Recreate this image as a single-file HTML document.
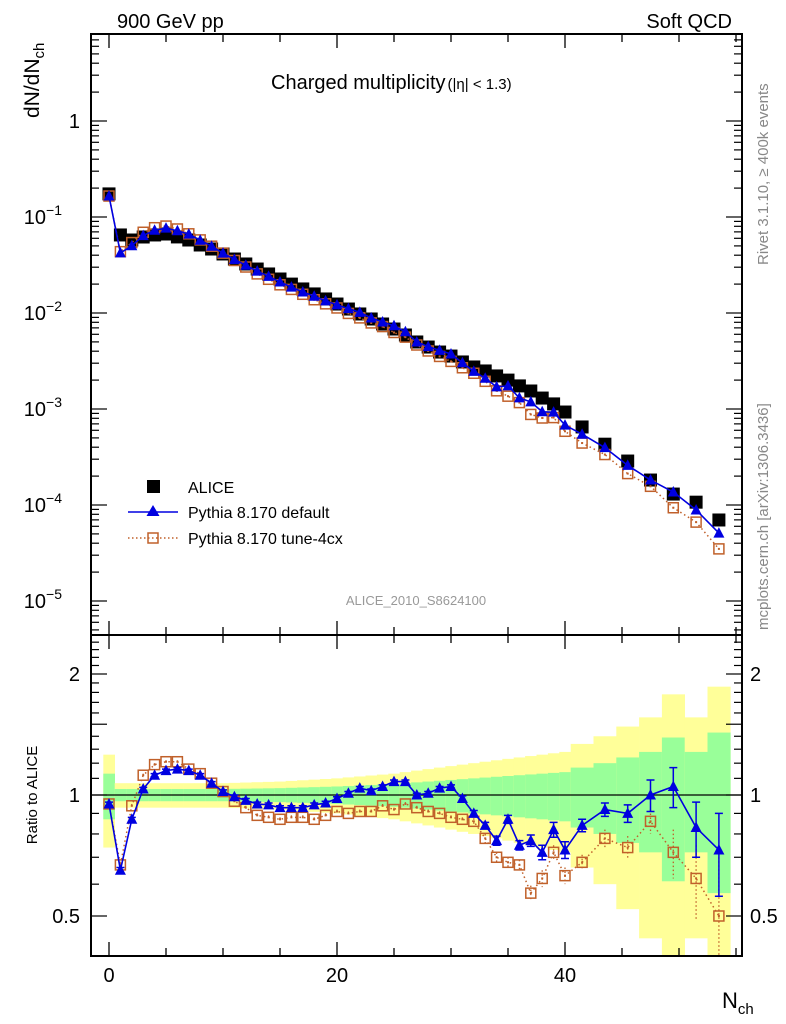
<!DOCTYPE html>
<html><head><meta charset="utf-8"><style>
html,body{margin:0;padding:0;background:#fff;width:786px;height:1024px;overflow:hidden;}
svg{display:block;font-family:"Liberation Sans",sans-serif;}
</style></head><body>
<svg id="chart" width="786" height="1024" viewBox="0 0 786 1024" xmlns="http://www.w3.org/2000/svg">
<defs>
<clipPath id="clipMain"><rect x="91" y="34" width="651" height="601"/></clipPath>
<clipPath id="clipRatio"><rect x="91" y="635" width="651" height="321"/></clipPath>
</defs>
<g id="bands" clip-path="url(#clipRatio)"></g>
<g id="axes"></g>
<g id="ratioMarks" clip-path="url(#clipRatio)"></g>
<g id="mainMarks" clip-path="url(#clipMain)"></g>
<text x="117" y="28" font-size="20">900 GeV pp</text>
<text x="732" y="28" font-size="20" text-anchor="end">Soft QCD</text>
<text x="271" y="89" font-size="20">Charged multiplicity<tspan font-size="15" dx="2">(|η| &lt; 1.3)</tspan></text>
<text transform="translate(39,118) rotate(-90)" font-size="21">dN/dN<tspan font-size="15" dy="5">ch</tspan></text>
<text transform="translate(37,795) rotate(-90)" font-size="15" text-anchor="middle">Ratio to ALICE</text>
<text transform="translate(768,265) rotate(-90)" font-size="15" fill="#888">Rivet 3.1.10, ≥ 400k events</text>
<text transform="translate(768,630) rotate(-90)" font-size="15" fill="#888">mcplots.cern.ch [arXiv:1306.3436]</text>
<text x="416" y="605" font-size="13" fill="#999" text-anchor="middle">ALICE_2010_S8624100</text>
<text x="722" y="1008" font-size="22">N<tspan font-size="15" dy="6">ch</tspan></text>
<g>
  <g>
    <rect x="147" y="480" width="13" height="13" fill="#000"/>
    <text x="188" y="493" font-size="16">ALICE</text>
  </g>
  <g>
    <line x1="128" y1="512" x2="178" y2="512" stroke="#0000e0" stroke-width="1.5"/>
    <polygon points="153,505 159.5,516 146.5,516" fill="#0000e0"/>
    <text x="188" y="518" font-size="16">Pythia 8.170 default</text>
  </g>
  <g>
    <line x1="128" y1="538" x2="178" y2="538" stroke="#c0602a" stroke-width="1.5" stroke-dasharray="1.5,2.5"/>
    <rect x="148" y="533" width="10" height="10" fill="none" stroke="#c0602a" stroke-width="1.5"/>
    <text x="188" y="544" font-size="16">Pythia 8.170 tune-4cx</text>
  </g>
</g>
</svg>
<script>
const binCenters=[0,1,2,3,4,5,6,7,8,9,10,11,12,13,14,15,16,17,18,19,20,21,22,23,24,25,26,27,28,29,30,31,32,33,34,35,36,37,38,39,40,41.5,43.5,45.5,47.5,49.5,51.5,53.5];
const binHalfWidths=[0.5,0.5,0.5,0.5,0.5,0.5,0.5,0.5,0.5,0.5,0.5,0.5,0.5,0.5,0.5,0.5,0.5,0.5,0.5,0.5,0.5,0.5,0.5,0.5,0.5,0.5,0.5,0.5,0.5,0.5,0.5,0.5,0.5,0.5,0.5,0.5,0.5,0.5,0.5,0.5,0.5,1,1,1,1,1,1,1];
const aliceValues=[0.174,0.065,0.0576,0.0619,0.065,0.0665,0.062,0.0576,0.0511,0.0464,0.0412,0.0365,0.0324,0.0287,0.0255,0.0226,0.0200,0.0178,0.0158,0.0140,0.0124,0.0110,0.00977,0.00866,0.00768,0.00681,0.00590,0.00499,0.00442,0.00392,0.00356,0.00309,0.00274,0.00249,0.00221,0.00200,0.00174,0.00154,0.00130,0.00113,0.00093,0.00065,0.00043,0.000287,0.000182,0.000130,0.000107,0.0000698];
const aliceRelErr=[0.13,0.035,0.035,0.035,0.035,0.035,0.035,0.035,0.035,0.035,0.035,0.036,0.037,0.038,0.039,0.04,0.042,0.044,0.046,0.048,0.05,0.053,0.056,0.059,0.062,0.065,0.07,0.075,0.08,0.085,0.09,0.095,0.1,0.105,0.11,0.115,0.12,0.125,0.13,0.135,0.14,0.17,0.2,0.24,0.28,0.39,0.28,0.43];
const ratioDefault=[0.95,0.65,0.87,1.035,1.12,1.15,1.16,1.15,1.12,1.07,1.02,0.99,0.97,0.95,0.945,0.93,0.93,0.93,0.945,0.955,0.98,1.01,1.04,1.025,1.05,1.08,1.08,1.0,1.01,1.04,1.05,0.98,0.9,0.84,0.77,0.87,0.75,0.77,0.72,0.82,0.73,0.84,0.92,0.9,1.0,1.05,0.83,0.73];
const errDefault=[0.01,0.01,0.01,0.01,0.01,0.01,0.01,0.01,0.01,0.01,0.01,0.01,0.01,0.01,0.01,0.01,0.01,0.01,0.01,0.01,0.01,0.01,0.01,0.01,0.01,0.01,0.01,0.01,0.01,0.01,0.01,0.015,0.015,0.015,0.02,0.02,0.02,0.025,0.03,0.035,0.035,0.03,0.035,0.045,0.09,0.12,0.13,0.17];
const ratioTune=[0.95,0.67,0.94,1.12,1.19,1.21,1.21,1.16,1.13,1.07,1.02,0.965,0.93,0.89,0.88,0.87,0.88,0.88,0.87,0.89,0.91,0.9,0.91,0.91,0.94,0.92,0.95,0.93,0.91,0.9,0.88,0.87,0.86,0.78,0.7,0.68,0.67,0.57,0.62,0.72,0.63,0.68,0.78,0.74,0.86,0.72,0.62,0.5];
const errTune=[0.01,0.01,0.01,0.01,0.01,0.01,0.01,0.01,0.01,0.01,0.01,0.01,0.01,0.01,0.01,0.01,0.01,0.01,0.01,0.01,0.01,0.01,0.01,0.01,0.01,0.01,0.01,0.01,0.01,0.01,0.01,0.01,0.015,0.02,0.02,0.02,0.02,0.025,0.03,0.03,0.03,0.03,0.04,0.05,0.06,0.1,0.13,0.2];
const xTickLabels=["0","20","40"];
const xTickValues=[0,20,40];
const yDecades=[0,-1,-2,-3,-4,-5];
const ratioTickLabels=["2","1","0.5"];
const ratioTickValues=[2,1,0.5];

const NS="http://www.w3.org/2000/svg";
const L=91,R=742,T=34,M=635,B=956;
const X=n=>109+11.4*n;
const Y=v=>121-96*Math.log10(v);
const YR=r=>795-121*Math.log2(r);
function mk(parent,tag,attrs){const e=document.createElementNS(NS,tag);for(const k in attrs)e.setAttribute(k,attrs[k]);parent.appendChild(e);return e;}
const axes=document.getElementById('axes');
const bands=document.getElementById('bands');
const rm=document.getElementById('ratioMarks');
const mm=document.getElementById('mainMarks');

binCenters.forEach((c,i)=>{
  const x0=X(c-binHalfWidths[i]),x1=X(c+binHalfWidths[i]),e=aliceRelErr[i];
  const y=mk(bands,'rect',{x:x0,y:YR(1+2*e),width:x1-x0+0.3,height:YR(Math.max(1-2*e,0.01))-YR(1+2*e),fill:'#ffff99'});
  
  
  const g=mk(bands,'rect',{x:x0,y:YR(1+e),width:x1-x0+0.3,height:YR(1-e)-YR(1+e),fill:'#99ff99'});
  
  
});

const fr=mk(axes,'rect',{x:L,y:T,width:R-L,height:B-T,fill:'none',stroke:'#000','stroke-width':2});


const sep=mk(axes,'line',{x1:L,y1:M,x2:R,y2:M,stroke:'#000','stroke-width':2});


const one=mk(axes,'line',{x1:L,y1:YR(1),x2:R,y2:YR(1),stroke:'#000','stroke-width':1.3});



for(let n=0;n<=55;n+=5){
  const maj=n%20===0, len=maj?14:8, x=X(n);
  [[T,T+len],[M-len,M+len],[B-len,B]].forEach(p=>{
    const t=mk(axes,'line',{x1:x,y1:p[0],x2:x,y2:p[1],stroke:'#000','stroke-width':1.3});
    
    
  });
}
xTickValues.forEach((v,i)=>{
  const t=mk(axes,'text',{x:X(v),y:982,'font-size':20,'text-anchor':'middle'});
  t.textContent=xTickLabels[i];
  
  
});
for(let d=-6;d<=0;d++){
  for(let m=1;m<=9;m++){
    const v=m*Math.pow(10,d), y=Y(v);
    if(y<T||y>M) continue;
    const len=m===1?16:8;
    [[L,L+len],[R-len,R]].forEach(p=>{
      const t=mk(axes,'line',{x1:p[0],y1:y,x2:p[1],y2:y,stroke:'#000','stroke-width':1.2});
      
      
    });
  }
}
yDecades.forEach(d=>{
  const t=mk(axes,'text',{x:80,y:Y(Math.pow(10,d))+7,'font-size':20,'text-anchor':'end'});
  if(d===0){t.textContent='1';}
  else{
    t.setAttribute('x',62);
    t.textContent='10';
    const s=mk(t,'tspan',{'font-size':14,dy:-9});
    s.textContent='−'+(-d);
  }
  
  
});
for(let k=4;k<=25;k++){
  const r=k/10,y=YR(r);
  if(y<M+2||y>B-2) continue;
  const maj=(k%5===0), len=maj?16:8;
  [[L,L+len],[R-len,R]].forEach(p=>{
    const t=mk(axes,'line',{x1:p[0],y1:y,x2:p[1],y2:y,stroke:'#000','stroke-width':1.2});
    
    
  });
}
ratioTickValues.forEach((v,i)=>{
  const a=mk(axes,'text',{x:80,y:YR(v)+7,'font-size':20,'text-anchor':'end'});
  a.textContent=ratioTickLabels[i];
  
  
  const b=mk(axes,'text',{x:750,y:YR(v)+7,'font-size':20});
  b.textContent=ratioTickLabels[i];
  
  
});

const BLUE='#0000e0',BROWN='#c0602a';
function tri(g,x,y,name){
  const p=mk(g,'polygon',{points:`${x},${y-6} ${x+5.5},${y+4.5} ${x-5.5},${y+4.5}`,fill:BLUE});
  
  
}
function sq(g,x,y,name){
  const p=mk(g,'rect',{x:x-5,y:y-5,width:10,height:10,fill:'none',stroke:BROWN,'stroke-width':1.5});
  
  
  const c=mk(g,'rect',{x:x-1,y:y-1,width:2,height:2,fill:BROWN});
  
  
}

const ptsD=binCenters.map((c,i)=>[X(c),YR(ratioDefault[i])]);
const ptsT=binCenters.map((c,i)=>[X(c),YR(ratioTune[i])]);
const lt=mk(rm,'polyline',{points:ptsT.map(p=>p.join(',')).join(' '),fill:'none',stroke:BROWN,'stroke-width':1.5,'stroke-dasharray':'1.5,3'});


binCenters.forEach((c,i)=>{
  const x=X(c);
  const e=mk(rm,'line',{x1:x,y1:YR(ratioTune[i]+errTune[i]),x2:x,y2:YR(ratioTune[i]-errTune[i]),stroke:BROWN,'stroke-width':1.3,'stroke-dasharray':'1.5,2.5'});
  
  
  sq(rm,x,YR(ratioTune[i]),'ratio-point-tune');
});
const ld=mk(rm,'polyline',{points:ptsD.map(p=>p.join(',')).join(' '),fill:'none',stroke:BLUE,'stroke-width':1.6});


binCenters.forEach((c,i)=>{
  const x=X(c),y1=YR(ratioDefault[i]+errDefault[i]),y2=YR(ratioDefault[i]-errDefault[i]);
  const e=mk(rm,'path',{d:`M${x},${y1}V${y2}M${x-4},${y1}H${x+4}M${x-4},${y2}H${x+4}`,stroke:BLUE,'stroke-width':1.5,fill:'none'});
  
  
  tri(rm,x,YR(ratioDefault[i]),'ratio-point-default');
});

binCenters.forEach((c,i)=>{
  const s=mk(mm,'rect',{x:X(c)-6.5,y:Y(aliceValues[i])-6.5,width:13,height:13,fill:'#000'});
  
  
});
const mT=binCenters.map((c,i)=>[X(c),Y(aliceValues[i]*ratioTune[i])]);
const mD=binCenters.map((c,i)=>[X(c),Y(aliceValues[i]*ratioDefault[i])]);
const mlt=mk(mm,'polyline',{points:mT.map(p=>p.join(',')).join(' '),fill:'none',stroke:BROWN,'stroke-width':1.5,'stroke-dasharray':'1.5,3'});


mT.forEach(p=>sq(mm,p[0],p[1],'main-point-tune'));
const mld=mk(mm,'polyline',{points:mD.map(p=>p.join(',')).join(' '),fill:'none',stroke:BLUE,'stroke-width':1.6});


mD.forEach(p=>tri(mm,p[0],p[1],'main-point-default'));
</script>
</body></html>
